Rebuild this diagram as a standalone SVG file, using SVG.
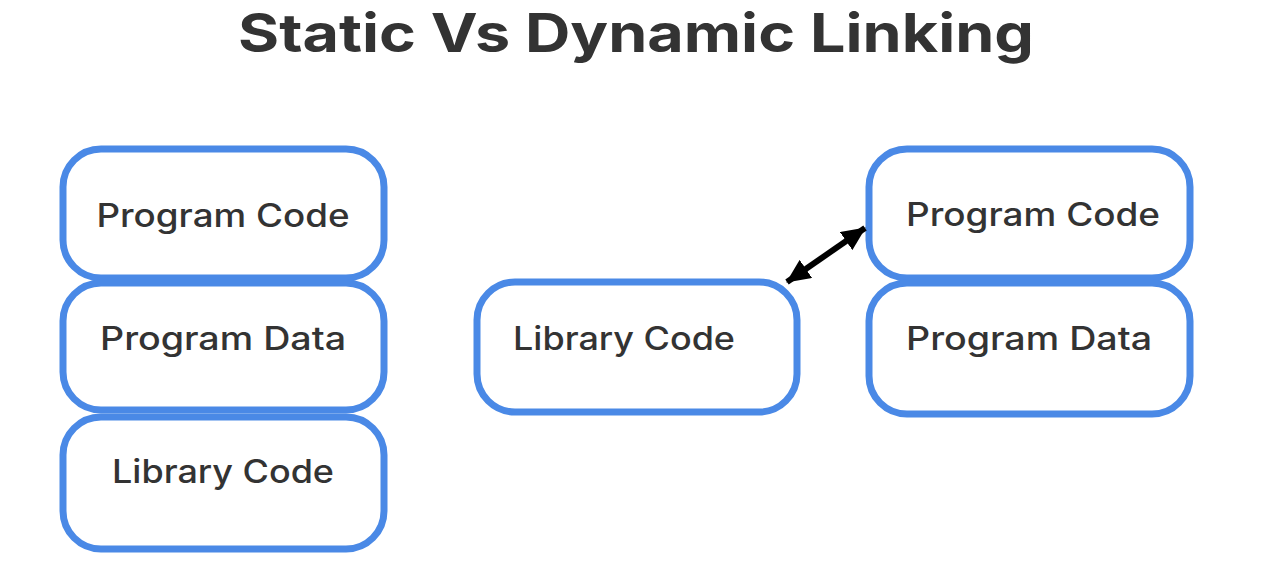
<svg xmlns="http://www.w3.org/2000/svg" width="1262" height="580" viewBox="0 0 1262 580">
<style>
.box{fill:#fff;stroke:#4a89e6;stroke-width:7}
.lbl{font-family:Inter,"Open Sans","Liberation Sans",sans-serif;font-size:32px;fill:#333;text-anchor:middle;font-weight:500}
.title{font-family:Inter,"Open Sans","Liberation Sans",sans-serif;font-size:53px;font-weight:bold;fill:#333;text-anchor:middle}
</style>
<defs>
<marker id="ah" viewBox="0 0 24 22" refX="23" refY="11" markerWidth="24" markerHeight="22" orient="auto-start-reverse" markerUnits="userSpaceOnUse">
<path d="M0,0 L24,11 L0,22 Z" fill="#000"/>
</marker>
</defs>
<rect width="1262" height="580" fill="#fff"/>
<text class="title" x="636" y="52" textLength="796" lengthAdjust="spacingAndGlyphs">Static Vs Dynamic Linking</text>
<g id="static-program-code"><rect class="box" x="63" y="149" width="321" height="129" rx="38"/><text class="lbl" x="223" y="227" textLength="253" lengthAdjust="spacingAndGlyphs">Program Code</text></g>
<g id="static-program-data"><rect class="box" x="63" y="283" width="321" height="127" rx="38"/><text class="lbl" x="223" y="350" textLength="246" lengthAdjust="spacingAndGlyphs">Program Data</text></g>
<g id="static-library-code"><rect class="box" x="63" y="417" width="321" height="132" rx="38"/><text class="lbl" x="223" y="483" textLength="222" lengthAdjust="spacingAndGlyphs">Library Code</text></g>
<g id="dynamic-library-code"><rect class="box" x="477" y="282" width="320" height="130" rx="38"/><text class="lbl" x="624" y="350" textLength="222" lengthAdjust="spacingAndGlyphs">Library Code</text></g>
<g id="dynamic-program-code"><rect class="box" x="869" y="149" width="321" height="129" rx="38"/><text class="lbl" x="1033" y="226" textLength="254" lengthAdjust="spacingAndGlyphs">Program Code</text></g>
<g id="dynamic-program-data"><rect class="box" x="869" y="283" width="321" height="131" rx="38"/><text class="lbl" x="1029" y="350" textLength="246" lengthAdjust="spacingAndGlyphs">Program Data</text></g>
<g id="connectors">
<line x1="787" y1="282" x2="865" y2="228" stroke="#000" stroke-width="6" marker-start="url(#ah)" marker-end="url(#ah)"/>
</g>
</svg>
